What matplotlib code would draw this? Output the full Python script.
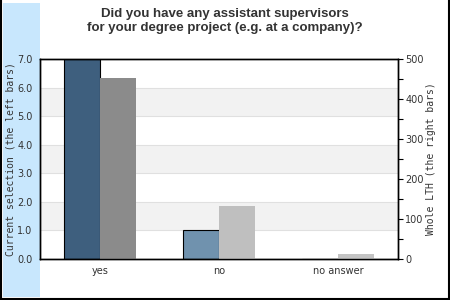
import matplotlib
matplotlib.use("Agg")
import matplotlib.pyplot as plt
from matplotlib.patches import Rectangle
from matplotlib.lines import Line2D
from matplotlib.ticker import MultipleLocator, FormatStrFormatter

categories = ["yes", "no", "no answer"]
current_selection = [7, 1, 0]
whole_lth = [452, 132, 12]
left_colors = ["#3e5f7e", "#7092ae", "#7092ae"]
right_colors = ["#8b8b8b", "#bfbfbf", "#c4c4c4"]

title = "Did you have any assistant supervisors\nfor your degree project (e.g. at a company)?"
left_label = "Current selection (the left bars)"
right_label = "Whole LTH (the right bars)"

W, H = 450, 300
fig = plt.figure(figsize=(4.5, 3.0), dpi=100)
fig.patch.set_facecolor("white")

def fx(x):
    return x / W

def fy(y):
    return 1 - y / H

# light blue strip on the left
fig.patches.append(Rectangle((fx(3), fy(297)), fx(37), 294 / H, transform=fig.transFigure,
                             facecolor="#c8e7fd", edgecolor="none", zorder=-5))
# frame lines (left, right, bottom)
for xs, ys in [([fx(0.8), fx(0.8)], [fy(0), fy(299)]),
               ([fx(448.5), fx(448.5)], [fy(0), fy(299)]),
               ([fx(0), fx(449)], [fy(298.5), fy(298.5)])]:
    fig.lines.append(Line2D(xs, ys, transform=fig.transFigure, color="black", lw=1.5))

fig.text(fx(225), fy(21), title, ha="center", va="center", fontsize=9.5, fontweight="bold",
         family="Liberation Sans", color="#333333", linespacing=1.15)

ax = fig.add_axes([fx(40), fy(259), fx(358), 200 / H])
ax.set_facecolor("white")
ax.set_xlim(-0.5, 2.5)
ax.set_ylim(0, 7)
for k in range(7):
    if k % 2 == 1:
        ax.axhspan(k, k + 1, facecolor="#f2f2f2", edgecolor="none", zorder=0)
    ax.axhline(k, color="#e0e0e0", lw=0.8, zorder=0.5)

x = list(range(len(categories)))
off = 0.15
bw = 0.302
ax.bar([i - off for i in x], current_selection, width=bw, color=left_colors,
       edgecolor="black", linewidth=0.8, zorder=2)

ax.yaxis.set_major_locator(MultipleLocator(1))
ax.yaxis.set_major_formatter(FormatStrFormatter("%.1f"))
ax.tick_params(axis="y", length=0, pad=5.5, labelsize=7, labelcolor="#333333")
ax.set_xticks(x)
ax.set_xticklabels(categories)
ax.tick_params(axis="x", length=0, pad=5, labelsize=7, labelcolor="#333333")
ax.set_ylabel(left_label, family="DejaVu Sans Mono", fontsize=7, color="#333333",
              ha="center", va="center")
ax.yaxis.set_label_coords(-(40 - 10.5) / 358, 0.5)
for s in ax.spines.values():
    s.set_color("black")
    s.set_linewidth(1)

ax2 = ax.twinx()
ax2.set_ylim(0, 500)
ax2.bar([i + off for i in x], whole_lth, width=bw, color=right_colors, edgecolor="none", zorder=2)
ax2.yaxis.set_major_locator(MultipleLocator(100))
ax2.yaxis.set_minor_locator(MultipleLocator(50))
ax2.tick_params(axis="y", which="both", length=3.6, width=0.8, color="black", direction="out",
                pad=1.5, labelsize=7, labelcolor="#333333")
ax2.set_ylabel(right_label, family="DejaVu Sans Mono", fontsize=7, color="#333333",
               ha="center", va="center")
ax2.yaxis.set_label_coords(1 + (431 - 398) / 358, 0.5)
for s in ax2.spines.values():
    s.set_color("black")
    s.set_linewidth(1)

fig.savefig("out.png", dpi=100)
